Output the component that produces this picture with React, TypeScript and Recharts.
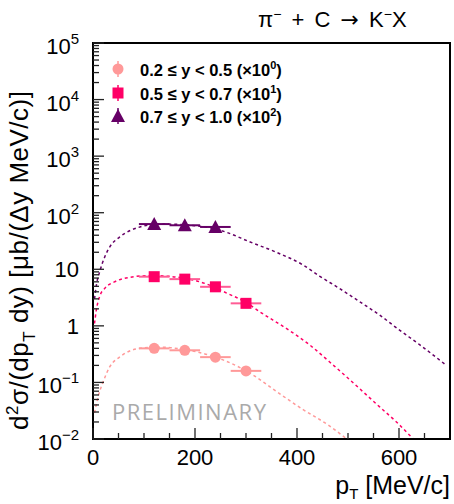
import { ComposedChart, Scatter, Line, XAxis, YAxis, ErrorBar, ReferenceArea } from "recharts";

// measured points (pT in MeV/c)
const ptLow = [120, 180, 240, 300];
const ptHigh = [120, 180, 240];
const ptErr = 30;
const valLow = [0.4, 0.37, 0.28, 0.16]; // 0.2 <= y < 0.5, x10^0
const valMid = [7.4, 6.7, 4.9, 2.5]; // 0.5 <= y < 0.7, x10^1
const valHigh = [63, 60, 56]; // 0.7 <= y < 1.0, x10^2

// fit curves
const fitLowPt = [3, 10, 20, 33, 52, 72, 101, 130, 180, 230, 255, 314, 360, 412, 461, 497];
const fitLowVal = [0.029, 0.056, 0.103, 0.19, 0.28, 0.36, 0.41, 0.42, 0.38, 0.3, 0.25, 0.135, 0.069, 0.033, 0.0177, 0.0101];
const fitMidPt = [3, 6.5, 13, 23, 42, 72, 92, 120, 150, 180, 230, 262, 300, 327, 379, 425, 464, 497, 529, 562, 595, 627];
const fitMidVal = [1.1, 1.9, 3.3, 4.6, 6.0, 7.2, 7.6, 7.7, 7.5, 6.9, 5.2, 3.8, 2.6, 1.77, 0.9, 0.46, 0.23, 0.126, 0.069, 0.037, 0.02, 0.0102];
const fitHighPt = [3, 7, 13, 23, 33, 52, 72, 92, 111, 140, 170, 200, 230, 262, 307, 360, 412, 444, 483, 523, 562, 601, 641, 693];
const fitHighVal = [3, 5.5, 9, 16.5, 25, 37, 48, 56, 61, 63, 62, 59, 54, 45, 30.6, 19.9, 11.9, 7.6, 4.6, 2.67, 1.55, 0.84, 0.46, 0.2];

const xTicks = [0, 50, 100, 150, 200, 250, 300, 350, 400, 450, 500, 550, 600, 650];
const yTicks: number[] = [];
for (let e = -2; e < 5; e++) for (let m = 1; m < 10; m++) yTicks.push(Number((m * Math.pow(10, e)).toPrecision(3)));
yTicks.push(100000);

const legendLabels = ["0.2 \u2264 y < 0.5 (\u00d710", "0.5 \u2264 y < 0.7 (\u00d710", "0.7 \u2264 y < 1.0 (\u00d710"];
const legendExp = ["0", "1", "2"];

const cLow = "#ff9999";
const cMid = "#ff0066";
const cHigh = "#660066";

const pts = (xs: number[], ys: number[]) => xs.map((x, i) => ({ x, y: ys[i], xe: ptErr }));
const curve = (xs: number[], ys: number[]) => xs.map((x, i) => ({ x, y: ys[i] }));

const font = "'Liberation Sans', Arial, sans-serif";

function Marker({ kind, cx, cy, color }: { kind: string; cx: number; cy: number; color: string }) {
  if (kind === "circle") return <circle cx={cx} cy={cy} r={5.5} fill={color} />;
  if (kind === "square") return <rect x={cx - 5.5} y={cy - 5.5} width={11} height={11} fill={color} />;
  return <polygon points={`${cx - 7},${cy + 6} ${cx + 7},${cy + 6} ${cx},${cy - 7}`} fill={color} />;
}

function YTick(props: any) {
  const { x, y, payload } = props;
  const v = payload.value;
  const lg = Math.log10(v);
  const e = Math.round(lg);
  const major = Math.abs(lg - e) < 1e-6;
  let label = null;
  if (major) {
    if (e === 0 || e === 1) {
      label = (
        <text x={x - 14} y={y + 8} textAnchor="end" fontSize={22} fontFamily={font} fill="#000">
          {e === 0 ? "1" : "10"}
        </text>
      );
    } else {
      label = (
        <text x={x - 14} y={y + 11} textAnchor="end" fontSize={22} fontFamily={font} fill="#000">
          10
          <tspan dy={-10} fontSize={15}>
            {e < 0 ? "\u2212" + -e : String(e)}
          </tspan>
        </text>
      );
    }
  }
  return (
    <g>
      <line x1={x} x2={x + (major ? 11 : 6)} y1={y} y2={y} stroke="#222" strokeWidth={1.3} />
      {label}
    </g>
  );
}

function XTick(props: any) {
  const { x, y, payload } = props;
  const major = payload.value % 200 === 0;
  return (
    <g>
      <line x1={x} x2={x} y1={y} y2={y - (major ? 11 : 6)} stroke="#222" strokeWidth={1.3} />
      {major && (
        <text x={x} y={y + 26} textAnchor="middle" fontSize={22} fontFamily={font} fill="#000">
          {payload.value}
        </text>
      )}
    </g>
  );
}

function LegendBox() {
  const kinds = ["circle", "square", "triangle"];
  const colors = [cLow, cMid, cHigh];
  return (
    <div style={{ position: "absolute", left: 107, top: 57, fontFamily: font, fontWeight: "bold", fontSize: 16.5, lineHeight: 1 }}>
      {legendLabels.map((t, i) => (
        <div key={i} style={{ display: "flex", alignItems: "center", height: 23.7 }}>
          <svg width={22} height={20} style={{ marginRight: 11 }}>
            <line x1={11} x2={11} y1={2} y2={18} stroke={colors[i]} strokeWidth={1.5} />
            <Marker kind={kinds[i]} cx={11} cy={10} color={colors[i]} />
          </svg>
          <span>
            {t}
            <sup style={{ fontSize: 11 }}>{legendExp[i]}</sup>)
          </span>
        </div>
      ))}
    </div>
  );
}

export default function App() {
  return (
    <div style={{ position: "absolute", left: 0, top: 0, width: 454, height: 504, background: "#fff" }}>
      <ComposedChart width={454} height={504} margin={{ top: 43, right: 4, bottom: 0, left: 0 }}>
        <XAxis
          type="number"
          dataKey="x"
          domain={[0, 700]}
          ticks={xTicks}
          interval={0}
          height={65}
          tickSize={0}
          tickMargin={0}
          tickLine={false}
          tick={<XTick />}
          axisLine={{ stroke: "#000", strokeWidth: 2 }}
          allowDataOverflow
        />
        <YAxis
          type="number"
          scale="log"
          domain={[0.01, 100000]}
          ticks={yTicks}
          interval={0}
          width={93}
          tickSize={0}
          tickMargin={0}
          tickLine={false}
          tick={<YTick />}
          axisLine={{ stroke: "#000", strokeWidth: 2 }}
          allowDataOverflow
        />
        <ReferenceArea x1={0} x2={700} y1={0.01} y2={100000} fill="none" stroke="#000" strokeWidth={2} />
        <Line data={curve(fitLowPt, fitLowVal)} dataKey="y" type="monotone" stroke={cLow} strokeWidth={1.5} strokeDasharray="3 3" dot={false} isAnimationActive={false} />
        <Line data={curve(fitMidPt, fitMidVal)} dataKey="y" type="monotone" stroke={cMid} strokeWidth={1.5} strokeDasharray="3 3" dot={false} isAnimationActive={false} />
        <Line data={curve(fitHighPt, fitHighVal)} dataKey="y" type="monotone" stroke={cHigh} strokeWidth={1.5} strokeDasharray="3 3" dot={false} isAnimationActive={false} />
        <Scatter data={pts(ptLow, valLow)} dataKey="y" fill={cLow} isAnimationActive={false} shape={(p: any) => <Marker kind="circle" cx={p.cx} cy={p.cy} color={cLow} />}>
          <ErrorBar dataKey="xe" direction="x" width={0} stroke={cLow} strokeWidth={2} />
        </Scatter>
        <Scatter data={pts(ptLow, valMid)} dataKey="y" fill={cMid} isAnimationActive={false} shape={(p: any) => <Marker kind="square" cx={p.cx} cy={p.cy} color={cMid} />}>
          <ErrorBar dataKey="xe" direction="x" width={0} stroke="#ff5c95" strokeWidth={2} />
        </Scatter>
        <Scatter data={pts(ptHigh, valHigh)} dataKey="y" fill={cHigh} isAnimationActive={false} shape={(p: any) => <Marker kind="triangle" cx={p.cx} cy={p.cy} color={cHigh} />}>
          <ErrorBar dataKey="xe" direction="x" width={0} stroke={cHigh} strokeWidth={2} />
        </Scatter>
      </ComposedChart>
      <LegendBox />
      <svg width={454} height={504} style={{ position: "absolute", left: 0, top: 0, pointerEvents: "none" }}>
        <text x={258} y={27} fontSize={22} wordSpacing={4} fontFamily={font} fill="#000">
          {"\u03c0"}
          <tspan dy={-8} fontSize={14}>{"\u2212"}</tspan>
          <tspan dy={8}>{" + C "}</tspan>
          <tspan fontFamily="'DejaVu Sans', sans-serif">{"\u2192"}</tspan>
          <tspan>{" K"}</tspan>
          <tspan dy={-8} fontSize={14}>{"\u2212"}</tspan>
          <tspan dy={8}>X</tspan>
        </text>
        <text x={450} y={494} textAnchor="end" fontSize={25} fontFamily={font} fill="#000">
          p<tspan dy={5} fontSize={15}>T</tspan>
          <tspan dy={-5}>{" [MeV/c]"}</tspan>
        </text>
        <text transform="rotate(-90)" x={-430} y={27.5} fontSize={26} letterSpacing={0.5} fontFamily={font} fill="#000">
          d<tspan dy={-10} fontSize={17}>2</tspan>
          <tspan dy={10}>{"\u03c3/(dp"}</tspan>
          <tspan dy={7} fontSize={17}>T</tspan>
          <tspan dy={-7}>{" dy) [\u03bcb/(\u0394y MeV/c)]"}</tspan>
        </text>
        <text x={112} y={420} fontSize={22} letterSpacing={1.5} fontFamily="'Open Sans', sans-serif" fill="#aaaaaa">
          PRELIMINARY
        </text>
      </svg>
    </div>
  );
}
